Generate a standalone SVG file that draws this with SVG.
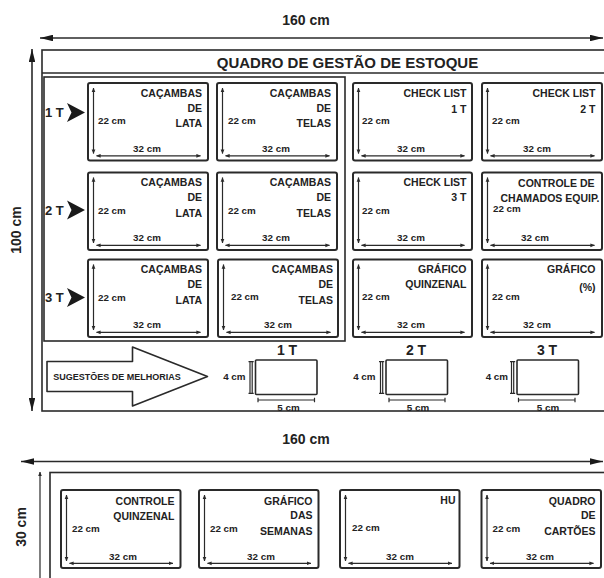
<svg xmlns="http://www.w3.org/2000/svg" width="604" height="578" viewBox="0 0 604 578">
<defs>
<style>
.bd{fill:none;stroke:#2a2a2a;stroke-width:1.6}
.card{fill:#fff;stroke:#2a2a2a;stroke-width:2}
.dim{fill:none;stroke:#2a2a2a;stroke-width:1.2}
.big{fill:none;stroke:#2a2a2a;stroke-width:1.6}
text{font-family:"Liberation Sans",Arial,sans-serif;font-weight:bold;fill:#222}
.lbl{font-size:10.5px;text-anchor:end}
.d{font-size:9.8px}
.dm{font-size:9.8px;text-anchor:middle}
.t{font-size:14px;text-anchor:middle}
.title{font-size:15px;text-anchor:middle}
.rl{font-size:13px}
.tri{fill:#1a1a1a}
</style>
<marker id="sa" viewBox="0 0 6 6" markerWidth="4.5" markerHeight="4.5" refX="5.5" refY="3" orient="auto-start-reverse" markerUnits="userSpaceOnUse"><path d="M0,0.5 L6,3 L0,5.5 z" fill="#2a2a2a"/></marker>
<marker id="ba" viewBox="0 0 12 6" markerWidth="13" markerHeight="6.5" refX="12" refY="3" orient="auto-start-reverse" markerUnits="userSpaceOnUse"><path d="M0,0 L12,3 L0,6 z" fill="#1a1a1a"/></marker>
</defs>
<rect width="604" height="578" fill="#fff"/>

<g id="connectors">
<line class="big" x1="40" y1="38" x2="603" y2="38" marker-start="url(#ba)" marker-end="url(#ba)"/>
<line class="big" x1="32" y1="49" x2="32" y2="411" marker-start="url(#ba)" marker-end="url(#ba)"/>
<line class="big" x1="21" y1="461.5" x2="603" y2="461.5" marker-start="url(#ba)" marker-end="url(#ba)"/>
<line class="dim" x1="40" y1="472" x2="40" y2="580" marker-start="url(#sa)"/>
</g>

<g id="dimension-labels">
<text class="t" x="306" y="25">160 cm</text>
<text class="t" x="306" y="444">160 cm</text>
<text class="t" transform="translate(21,230) rotate(-90)" x="0" y="0">100 cm</text>
<text class="t" font-size="13" transform="translate(26,527) rotate(-90)" x="0" y="0">30 cm</text>
</g>

<g id="board-main">
<rect class="bd" x="42" y="50" width="580" height="361"/>
<line class="bd" x1="42" y1="73" x2="610" y2="73"/>
<text class="title" x="347.5" y="67.5">QUADRO DE GESTÃO DE ESTOQUE</text>
<rect class="bd" x="44" y="77" width="301" height="264"/>
</g>

<g id="shift-labels">
<text class="rl" x="45" y="117.2">1 T</text>
<path class="tri" d="M67,103 L85,112.5 L67,122 L71.5,112.5 Z"/>
<text class="rl" x="45" y="214.5">2 T</text>
<path class="tri" d="M67,200.5 L85,210 L67,219.5 L71.5,210 Z"/>
<text class="rl" x="45" y="301.7">3 T</text>
<path class="tri" d="M67,288 L85,297.5 L67,307 L71.5,297.5 Z"/>
</g>

<!-- Row 1 -->
<g id="card-r1c1">
<rect class="card" x="88" y="83" width="120" height="77.5" rx="2"/>
<line class="dim" x1="93.5" y1="88" x2="93.5" y2="153.5" marker-start="url(#sa)" marker-end="url(#sa)"/>
<line class="dim" x1="96.5" y1="155.8" x2="200.5" y2="155.8" marker-start="url(#sa)" marker-end="url(#sa)"/>
<text class="d" x="98" y="124">22 cm</text><text class="dm" x="147" y="152">32 cm</text>
<text class="lbl" x="202" y="96.7">CAÇAMBAS</text><text class="lbl" x="202" y="111.7">DE</text><text class="lbl" x="202" y="127">LATA</text>
</g>
<g id="card-r1c2">
<rect class="card" x="217" y="83" width="120" height="77.5" rx="2"/>
<line class="dim" x1="222.5" y1="88" x2="222.5" y2="153.5" marker-start="url(#sa)" marker-end="url(#sa)"/>
<line class="dim" x1="225.5" y1="155.8" x2="329.5" y2="155.8" marker-start="url(#sa)" marker-end="url(#sa)"/>
<text class="d" x="228" y="124">22 cm</text><text class="dm" x="276" y="152">32 cm</text>
<text class="lbl" x="331" y="96.7">CAÇAMBAS</text><text class="lbl" x="331" y="111.7">DE</text><text class="lbl" x="331" y="127">TELAS</text>
</g>
<g id="card-r1c3">
<rect class="card" x="353" y="83" width="119" height="77.5" rx="2"/>
<line class="dim" x1="358.5" y1="88" x2="358.5" y2="153.5" marker-start="url(#sa)" marker-end="url(#sa)"/>
<line class="dim" x1="361.5" y1="155.8" x2="464.5" y2="155.8" marker-start="url(#sa)" marker-end="url(#sa)"/>
<text class="d" x="362" y="124">22 cm</text><text class="dm" x="411" y="152">32 cm</text>
<text class="lbl" x="466.5" y="96.7">CHECK LIST</text><text class="lbl" x="466.5" y="112.5">1 T</text>
</g>
<g id="card-r1c4">
<rect class="card" x="482" y="83" width="120" height="77.5" rx="2"/>
<line class="dim" x1="487.5" y1="88" x2="487.5" y2="153.5" marker-start="url(#sa)" marker-end="url(#sa)"/>
<line class="dim" x1="490.5" y1="155.8" x2="594.5" y2="155.8" marker-start="url(#sa)" marker-end="url(#sa)"/>
<text class="d" x="492" y="124">22 cm</text><text class="dm" x="537" y="152">32 cm</text>
<text class="lbl" x="595.5" y="96.7">CHECK LIST</text><text class="lbl" x="595.5" y="112.5">2 T</text>
</g>

<!-- Row 2 -->
<g id="card-r2c1">
<rect class="card" x="88" y="172.5" width="120" height="77.5" rx="2"/>
<line class="dim" x1="93.5" y1="177.5" x2="93.5" y2="243" marker-start="url(#sa)" marker-end="url(#sa)"/>
<line class="dim" x1="96.5" y1="245.3" x2="200.5" y2="245.3" marker-start="url(#sa)" marker-end="url(#sa)"/>
<text class="d" x="98" y="213.5">22 cm</text><text class="dm" x="147" y="240.5">32 cm</text>
<text class="lbl" x="202" y="186.2">CAÇAMBAS</text><text class="lbl" x="202" y="201.2">DE</text><text class="lbl" x="202" y="216.5">LATA</text>
</g>
<g id="card-r2c2">
<rect class="card" x="217" y="172.5" width="120" height="77.5" rx="2"/>
<line class="dim" x1="222.5" y1="177.5" x2="222.5" y2="243" marker-start="url(#sa)" marker-end="url(#sa)"/>
<line class="dim" x1="225.5" y1="245.3" x2="329.5" y2="245.3" marker-start="url(#sa)" marker-end="url(#sa)"/>
<text class="d" x="228" y="213.5">22 cm</text><text class="dm" x="276" y="240.5">32 cm</text>
<text class="lbl" x="331" y="186.2">CAÇAMBAS</text><text class="lbl" x="331" y="201.2">DE</text><text class="lbl" x="331" y="216.5">TELAS</text>
</g>
<g id="card-r2c3">
<rect class="card" x="353" y="172.5" width="119" height="77.5" rx="2"/>
<line class="dim" x1="358.5" y1="177.5" x2="358.5" y2="243" marker-start="url(#sa)" marker-end="url(#sa)"/>
<line class="dim" x1="361.5" y1="245.3" x2="464.5" y2="245.3" marker-start="url(#sa)" marker-end="url(#sa)"/>
<text class="d" x="362" y="213.5">22 cm</text><text class="dm" x="411" y="240.5">32 cm</text>
<text class="lbl" x="466.5" y="186.2">CHECK LIST</text><text class="lbl" x="466.5" y="201.2">3 T</text>
</g>
<g id="card-r2c4">
<rect class="card" x="482" y="172.5" width="120" height="77.5" rx="2"/>
<line class="dim" x1="487.5" y1="177.5" x2="487.5" y2="243" marker-start="url(#sa)" marker-end="url(#sa)"/>
<line class="dim" x1="490.5" y1="245.3" x2="594.5" y2="245.3" marker-start="url(#sa)" marker-end="url(#sa)"/>
<text class="d" x="493" y="212">22 cm</text><text class="dm" x="535" y="240.5">32 cm</text>
<text class="lbl" x="594.5" y="187">CONTROLE DE</text><text class="lbl" x="599.5" y="202">CHAMADOS EQUIP.</text>
</g>

<!-- Row 3 -->
<g id="card-r3c1">
<rect class="card" x="88" y="259.5" width="120" height="77.5" rx="2"/>
<line class="dim" x1="93.5" y1="264.5" x2="93.5" y2="330" marker-start="url(#sa)" marker-end="url(#sa)"/>
<line class="dim" x1="96.5" y1="332.3" x2="200.5" y2="332.3" marker-start="url(#sa)" marker-end="url(#sa)"/>
<text class="d" x="98" y="300.5">22 cm</text><text class="dm" x="147" y="327.5">32 cm</text>
<text class="lbl" x="202" y="273.2">CAÇAMBAS</text><text class="lbl" x="202" y="288.2">DE</text><text class="lbl" x="202" y="303.5">LATA</text>
</g>
<g id="card-r3c2">
<rect class="card" x="218" y="259.5" width="120" height="77.5" rx="2"/>
<line class="dim" x1="223.5" y1="264.5" x2="223.5" y2="330" marker-start="url(#sa)" marker-end="url(#sa)"/>
<line class="dim" x1="226.5" y1="332.3" x2="330.5" y2="332.3" marker-start="url(#sa)" marker-end="url(#sa)"/>
<text class="d" x="231" y="299.5">22 cm</text><text class="dm" x="278" y="327.5">32 cm</text>
<text class="lbl" x="333" y="273.2">CAÇAMBAS</text><text class="lbl" x="333" y="288.2">DE</text><text class="lbl" x="333" y="303.5">TELAS</text>
</g>
<g id="card-r3c3">
<rect class="card" x="353" y="259.5" width="119" height="77.5" rx="2"/>
<line class="dim" x1="358.5" y1="264.5" x2="358.5" y2="330" marker-start="url(#sa)" marker-end="url(#sa)"/>
<line class="dim" x1="361.5" y1="332.3" x2="464.5" y2="332.3" marker-start="url(#sa)" marker-end="url(#sa)"/>
<text class="d" x="362" y="300">22 cm</text><text class="dm" x="411" y="327.5">32 cm</text>
<text class="lbl" x="466.5" y="273.2">GRÁFICO</text><text class="lbl" x="466.5" y="288">QUINZENAL</text>
</g>
<g id="card-r3c4">
<rect class="card" x="482" y="259.5" width="120" height="77.5" rx="2"/>
<line class="dim" x1="487.5" y1="264.5" x2="487.5" y2="330" marker-start="url(#sa)" marker-end="url(#sa)"/>
<line class="dim" x1="490.5" y1="332.3" x2="594.5" y2="332.3" marker-start="url(#sa)" marker-end="url(#sa)"/>
<text class="d" x="492" y="300">22 cm</text><text class="dm" x="537" y="327.5">32 cm</text>
<text class="lbl" x="595.5" y="273.2">GRÁFICO</text><text class="lbl" x="595.5" y="291">(%)</text>
</g>

<!-- Suggestions row -->
<g id="sugestoes">
<path class="bd" stroke-linejoin="round" fill="#fff" d="M47,361.5 L132.5,361.5 L132.5,347 L207.5,376.5 L132.5,406 L132.5,391.5 L47,391.5 Z"/>
<text x="117" y="379.8" font-size="9" text-anchor="middle">SUGESTÕES DE MELHORIAS</text>
</g>
<g id="box-1t">
<text class="t" x="287" y="355">1 T</text>
<rect class="bd" x="255.5" y="360" width="61.5" height="34.5" rx="1"/>
<path class="dim" d="M250,361.7 V393.3 M252.2,361.7 V393.3 M248.5,361.7 H253.7 M248.5,393.3 H253.7"/>
<text class="d" x="245.5" y="379.5" text-anchor="end">4 cm</text>
<path class="dim" d="M258,400 H314.5 M258,397.8 V402.2 M314.5,397.8 V402.2"/>
<text class="dm" x="288.5" y="410.5">5 cm</text>
</g>
<g id="box-2t">
<text class="t" x="416" y="355">2 T</text>
<rect class="bd" x="386" y="360" width="61.5" height="34.5" rx="1"/>
<path class="dim" d="M380.5,361.7 V393.3 M382.7,361.7 V393.3 M379,361.7 H384.2 M379,393.3 H384.2"/>
<text class="d" x="375.5" y="379.5" text-anchor="end">4 cm</text>
<path class="dim" d="M389,400 H445 M389,397.8 V402.2 M445,397.8 V402.2"/>
<text class="dm" x="418" y="410.5">5 cm</text>
</g>
<g id="box-3t">
<text class="t" x="547" y="355">3 T</text>
<rect class="bd" x="517" y="360" width="61.5" height="34.5" rx="1"/>
<path class="dim" d="M511.5,361.7 V393.3 M513.7,361.7 V393.3 M510,361.7 H515.2 M510,393.3 H515.2"/>
<text class="d" x="508" y="379.5" text-anchor="end">4 cm</text>
<path class="dim" d="M518.5,400 H575 M518.5,397.8 V402.2 M575,397.8 V402.2"/>
<text class="dm" x="548" y="410.5">5 cm</text>
</g>

<!-- Bottom board -->
<g id="board-bottom">
<rect class="bd" x="50" y="472.5" width="570" height="120"/>
</g>
<g id="card-b1">
<rect class="card" x="61" y="490" width="119.5" height="78" rx="2"/>
<line class="dim" x1="66.5" y1="495" x2="66.5" y2="561" marker-start="url(#sa)" marker-end="url(#sa)"/>
<line class="dim" x1="69.5" y1="563.3" x2="173" y2="563.3" marker-start="url(#sa)" marker-end="url(#sa)"/>
<text class="d" x="72" y="531.8">22 cm</text><text class="dm" x="123" y="559.5">32 cm</text>
<text class="lbl" x="174.5" y="504.7">CONTROLE</text><text class="lbl" x="174.5" y="520.2">QUINZENAL</text>
</g>
<g id="card-b2">
<rect class="card" x="199" y="490" width="119.5" height="78" rx="2"/>
<line class="dim" x1="204.5" y1="495" x2="204.5" y2="561" marker-start="url(#sa)" marker-end="url(#sa)"/>
<line class="dim" x1="207.5" y1="563.3" x2="311" y2="563.3" marker-start="url(#sa)" marker-end="url(#sa)"/>
<text class="d" x="210" y="531.8">22 cm</text><text class="dm" x="261" y="559.5">32 cm</text>
<text class="lbl" x="312.5" y="504.7">GRÁFICO</text><text class="lbl" x="312.5" y="518.7">DAS</text><text class="lbl" x="312.5" y="534.7">SEMANAS</text>
</g>
<g id="card-b3">
<rect class="card" x="340" y="490" width="119.5" height="78" rx="2"/>
<line class="dim" x1="345.5" y1="495" x2="345.5" y2="561" marker-start="url(#sa)" marker-end="url(#sa)"/>
<line class="dim" x1="348.5" y1="563.3" x2="452" y2="563.3" marker-start="url(#sa)" marker-end="url(#sa)"/>
<text class="d" x="352" y="530.5">22 cm</text><text class="dm" x="400" y="559.5">32 cm</text>
<text class="lbl" x="455.5" y="503.7">HU</text>
</g>
<g id="card-b4">
<rect class="card" x="481.5" y="490" width="119.5" height="78" rx="2"/>
<line class="dim" x1="487" y1="495" x2="487" y2="561" marker-start="url(#sa)" marker-end="url(#sa)"/>
<line class="dim" x1="490" y1="563.3" x2="593.5" y2="563.3" marker-start="url(#sa)" marker-end="url(#sa)"/>
<text class="d" x="492.5" y="531.8">22 cm</text><text class="dm" x="540" y="559.5">32 cm</text>
<text class="lbl" x="595.5" y="504.7">QUADRO</text><text class="lbl" x="595.5" y="518.7">DE</text><text class="lbl" x="595.5" y="534.7">CARTÕES</text>
</g>
</svg>
